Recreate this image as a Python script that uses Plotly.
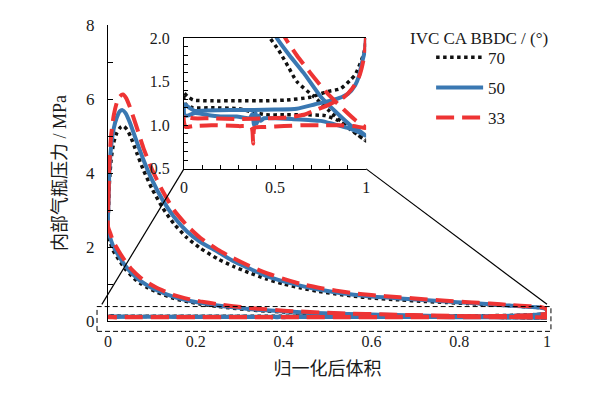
import plotly.graph_objects as go

# ---------------- data (normalized volume, pressure in MPa) ----------------
# IVC CA BBDC = 70 deg : expansion -> blowdown/exhaust -> intake -> compression
V_70 = [0.000, 0.001, 0.003, 0.007, 0.013, 0.020, 0.028, 0.035, 0.043, 0.052,
        0.065, 0.080, 0.100, 0.125, 0.150, 0.180, 0.210, 0.250, 0.285, 0.320,
        0.360, 0.400, 0.440, 0.480, 0.520, 0.560, 0.600, 0.665, 0.720, 0.770,
        0.820, 0.870, 0.920, 0.960, 0.985, 0.997, 1.000,
        0.999, 0.995, 0.987, 0.975, 0.960, 0.940, 0.914, 0.860, 0.785, 0.690,
        0.565, 0.450, 0.300, 0.150, 0.050, 0.020, 0.000,
        0.000, 0.010, 0.050, 0.150, 0.300, 0.380, 0.450, 0.550, 0.650, 0.775,
        0.840, 0.885, 0.930, 1.000,
        0.960, 0.914, 0.800, 0.712, 0.620, 0.570, 0.520, 0.473, 0.440, 0.400,
        0.360, 0.320, 0.285, 0.250, 0.210, 0.187, 0.150, 0.111, 0.090, 0.073,
        0.055, 0.039, 0.025, 0.012, 0.005, 0.000]
P_70 = [2.30, 2.95, 3.70, 4.35, 4.82, 5.08, 5.23, 5.27, 5.18, 4.97,
        4.56, 4.10, 3.58, 3.05, 2.63, 2.25, 1.97, 1.68, 1.48, 1.31,
        1.14, 1.00, 0.89, 0.80, 0.73, 0.67, 0.62, 0.57, 0.53, 0.50,
        0.47, 0.44, 0.41, 0.38, 0.36, 0.33, 0.27,
        0.200, 0.190, 0.182, 0.175, 0.167, 0.158, 0.152, 0.142, 0.1385, 0.132,
        0.129, 0.128, 0.128, 0.128, 0.129, 0.133, 0.137,
        0.130, 0.124, 0.120, 0.120, 0.119, 0.115, 0.112, 0.112, 0.112, 0.111,
        0.106, 0.100, 0.093, 0.082,
        0.088, 0.095, 0.116, 0.133, 0.150, 0.168, 0.186, 0.200, 0.215, 0.240,
        0.270, 0.305, 0.345, 0.395, 0.460, 0.510, 0.610, 0.780, 0.900, 1.020,
        1.200, 1.410, 1.650, 1.900, 2.120, 2.300]

# IVC CA BBDC = 50 deg
V_50 = [0.000, 0.001, 0.003, 0.007, 0.013, 0.020, 0.027, 0.033, 0.040, 0.050,
        0.065, 0.080, 0.100, 0.125, 0.150, 0.180, 0.210, 0.250, 0.285, 0.320,
        0.360, 0.400, 0.440, 0.480, 0.520, 0.560, 0.600, 0.665, 0.720, 0.770,
        0.820, 0.870, 0.920, 0.960, 0.985, 0.997, 1.000,
        0.999, 0.995, 0.987, 0.975, 0.960, 0.940, 0.900, 0.850, 0.800, 0.720,
        0.620, 0.500, 0.380, 0.250, 0.120, 0.060, 0.030, 0.005, 0.000,
        0.003, 0.020, 0.060, 0.120, 0.200, 0.290, 0.360, 0.375, 0.385, 0.393,
        0.400, 0.410, 0.420, 0.440, 0.500, 0.600, 0.683, 0.750, 0.810, 0.860,
        0.900, 0.950, 1.000,
        0.960, 0.914, 0.840, 0.750, 0.657, 0.580, 0.510, 0.440, 0.400, 0.360,
        0.320, 0.285, 0.250, 0.210, 0.187, 0.150, 0.111, 0.090, 0.073, 0.055,
        0.039, 0.025, 0.012, 0.005, 0.000]
P_50 = [2.45, 3.20, 4.00, 4.70, 5.20, 5.50, 5.67, 5.70, 5.62, 5.36,
        4.86, 4.38, 3.82, 3.26, 2.82, 2.42, 2.14, 1.87, 1.62, 1.43,
        1.22, 1.07, 0.95, 0.85, 0.77, 0.71, 0.66, 0.61, 0.57, 0.53,
        0.49, 0.45, 0.41, 0.38, 0.36, 0.33, 0.27,
        0.200, 0.188, 0.180, 0.170, 0.156, 0.146, 0.136, 0.131, 0.128, 0.124,
        0.119, 0.118, 0.1175, 0.1175, 0.117, 0.1165, 0.120, 0.124, 0.121,
        0.111, 0.111, 0.114, 0.112, 0.110, 0.110, 0.108, 0.113, 0.100, 0.114,
        0.102, 0.111, 0.105, 0.108, 0.108, 0.107, 0.106, 0.105, 0.102, 0.099,
        0.097, 0.093, 0.088,
        0.094, 0.100, 0.114, 0.133, 0.160, 0.180, 0.200, 0.235, 0.260, 0.290,
        0.325, 0.370, 0.420, 0.490, 0.540, 0.650, 0.830, 0.960, 1.090, 1.280,
        1.500, 1.750, 2.020, 2.250, 2.450]

# IVC CA BBDC = 33 deg
V_33 = [0.000, 0.001, 0.003, 0.007, 0.013, 0.020, 0.027, 0.034, 0.041, 0.050,
        0.065, 0.080, 0.100, 0.125, 0.150, 0.180, 0.210, 0.250, 0.285, 0.320,
        0.360, 0.400, 0.440, 0.480, 0.520, 0.560, 0.600, 0.665, 0.720, 0.770,
        0.820, 0.870, 0.920, 0.960, 0.985, 0.997, 1.000,
        0.999, 0.995, 0.990, 0.975, 0.960, 0.923, 0.877, 0.800, 0.730, 0.657,
        0.565, 0.450, 0.300, 0.150, 0.050, 0.010, 0.000,
        0.000, 0.010, 0.050, 0.150, 0.300, 0.370, 0.380, 0.388, 0.450, 0.550,
        0.650, 0.750, 0.850, 0.930, 1.000,
        0.940, 0.877, 0.785, 0.694, 0.620, 0.556, 0.500, 0.440, 0.400, 0.360,
        0.320, 0.285, 0.250, 0.210, 0.187, 0.150, 0.111, 0.090, 0.073, 0.055,
        0.039, 0.025, 0.012, 0.005, 0.000]
P_33 = [2.55, 3.30, 4.20, 5.00, 5.55, 5.90, 6.07, 6.12, 6.03, 5.78,
        5.25, 4.70, 4.10, 3.50, 3.00, 2.58, 2.25, 1.93, 1.70, 1.50,
        1.30, 1.14, 1.00, 0.90, 0.82, 0.75, 0.70, 0.64, 0.59, 0.55,
        0.51, 0.47, 0.43, 0.40, 0.38, 0.34, 0.28,
        0.200, 0.188, 0.180, 0.165, 0.155, 0.142, 0.132, 0.124, 0.118, 0.112,
        0.109, 0.108, 0.107, 0.108, 0.108, 0.110, 0.112,
        0.104, 0.098, 0.099, 0.100, 0.099, 0.098, 0.079, 0.097, 0.098, 0.099,
        0.100, 0.100, 0.100, 0.099, 0.097,
        0.106, 0.118, 0.137, 0.160, 0.180, 0.200, 0.222, 0.255, 0.280, 0.315,
        0.355, 0.400, 0.455, 0.530, 0.585, 0.700, 0.900, 1.040, 1.180, 1.380,
        1.620, 1.880, 2.150, 2.380, 2.550]

SERIES_NAMES = ["70", "50", "33"]
INSET_SCALE = 10  # inset shows pressure in 0.1 MPa units

X_TICKS = [0, 0.2, 0.4, 0.6, 0.8, 1]
X_LABELS = ["0", "0.2", "0.4", "0.6", "0.8", "1"]
Y_TICKS = [0, 2, 4, 6, 8]
INSET_X_TICKS = [0, 0.5, 1]
INSET_X_LABELS = ["0", "0.5", "1"]
INSET_Y_TICKS = [0.5, 1.0, 1.5, 2.0]
INSET_Y_LABELS = ["0.5", "1.0", "1.5", "2.0"]

# zoom window (data units on main axes) and connector end points
ZOOM_V = (-0.025, 1.009)
ZOOM_P = (-0.28, 0.39)
CONN_END_LEFT = (-0.014, 0.45)
CONN_END_RIGHT = (1.0, 0.45)

# ---------------- styling ----------------
FONT = "Liberation Serif, Noto Sans CJK SC, serif"
TXT = "#1a1a1a"
styles = {
    "70": dict(color="#111111", width=3.5, dash="3.5px,3.5px"),
    "50": dict(color="#3a78b2", width=4, dash="solid"),
    "33": dict(color="#ee3434", width=4, dash="18px,8px"),
}
data = {"70": (V_70, P_70), "50": (V_50, P_50), "33": (V_33, P_33)}

X_RANGE = [0, 1]
Y_RANGE = [0, 8]
INSET_DOM_X = [0.173, 0.588]
INSET_DOM_Y = [0.514, 0.956]

fig = go.Figure()
for name in SERIES_NAMES:
    v, p = data[name]
    fig.add_trace(go.Scatter(
        x=v, y=p, mode="lines", name=name, legendgroup=name,
        line=dict(shape="spline", smoothing=0.6, **styles[name]),
        xaxis="x", yaxis="y"))
for name in SERIES_NAMES:
    v, p = data[name]
    fig.add_trace(go.Scatter(
        x=v, y=[q * INSET_SCALE for q in p], mode="lines", name=name,
        legendgroup=name, showlegend=False,
        line=dict(shape="spline", smoothing=0.6, **styles[name]),
        xaxis="x2", yaxis="y2"))


def px(v):
    return (v - X_RANGE[0]) / (X_RANGE[1] - X_RANGE[0])


def py(p):
    return (p - Y_RANGE[0]) / (Y_RANGE[1] - Y_RANGE[0])


shapes = [
    dict(type="rect", xref="paper", yref="paper",
         x0=px(ZOOM_V[0]), x1=px(ZOOM_V[1]), y0=py(ZOOM_P[0]), y1=py(ZOOM_P[1]),
         line=dict(color="black", width=1, dash="5px,3px")),
    dict(type="line", xref="paper", yref="paper",
         x0=INSET_DOM_X[0], y0=INSET_DOM_Y[0],
         x1=px(CONN_END_LEFT[0]), y1=py(CONN_END_LEFT[1]),
         line=dict(color="black", width=1.2)),
    dict(type="line", xref="paper", yref="paper",
         x0=INSET_DOM_X[1], y0=INSET_DOM_Y[0],
         x1=px(CONN_END_RIGHT[0]), y1=py(CONN_END_RIGHT[1]),
         line=dict(color="black", width=1.2)),
]

fig.update_layout(
    template="none",
    width=597, height=393,
    margin=dict(l=100, r=58, t=17, b=79.5, autoexpand=False),
    paper_bgcolor="white", plot_bgcolor="white",
    font=dict(family=FONT, size=16, color=TXT),
    showlegend=True,
    legend=dict(x=0.736, y=0.95, xanchor="left", yanchor="top",
                font=dict(family=FONT, size=17, color=TXT),
                bgcolor="rgba(0,0,0,0)", itemwidth=47, tracegroupgap=5,
                traceorder="grouped"),
    shapes=shapes,
    annotations=[dict(text="IVC CA BBDC / (°)", xref="paper", yref="paper",
                      x=0.683, y=0.956, xanchor="left", yanchor="middle",
                      showarrow=False, font=dict(family=FONT, size=17, color=TXT))],
    xaxis=dict(range=X_RANGE, domain=[0, 1], automargin=False, showline=True,
               linecolor="black", linewidth=1, ticks="", tickvals=X_TICKS,
               ticktext=X_LABELS, showgrid=False, zeroline=False,
               tickfont=dict(size=16, color=TXT), ticklabelstandoff=6,
               title=dict(text="归一化后体积", font=dict(size=18), standoff=13)),
    yaxis=dict(range=Y_RANGE, domain=[0, 1], automargin=False, showline=True,
               linecolor="black", linewidth=1, ticks="inside", ticklen=5,
               tickcolor="black", tickvals=Y_TICKS,
               minor=dict(dtick=1, ticks="inside", ticklen=5, tickcolor="black"),
               showgrid=False, zeroline=False, tickfont=dict(size=17, color=TXT),
               ticklabelstandoff=9,
               title=dict(text="内部气瓶压力 / MPa", font=dict(size=18), standoff=14)),
    xaxis2=dict(range=[0, 1], domain=INSET_DOM_X, anchor="y2", automargin=False,
                showline=True, mirror=True, linecolor="black", linewidth=1,
                ticks="inside", ticklen=4, tickcolor="black", tickvals=INSET_X_TICKS,
                ticktext=INSET_X_LABELS,
                minor=dict(dtick=0.1, ticks="inside", ticklen=4, tickcolor="black"),
                showgrid=False, zeroline=False, tickfont=dict(size=16, color=TXT),
                ticklabelstandoff=4),
    yaxis2=dict(range=[0.5, 2.0], domain=INSET_DOM_Y, anchor="x2", automargin=False,
                showline=True, linecolor="black", linewidth=1, ticks="inside",
                ticklen=4, tickcolor="black", tickvals=INSET_Y_TICKS,
                ticktext=INSET_Y_LABELS,
                minor=dict(dtick=0.1, ticks="inside", ticklen=4, tickcolor="black"),
                showgrid=False, zeroline=False, tickfont=dict(size=16, color=TXT),
                ticklabelstandoff=10),
)

fig.write_html("out.html")
